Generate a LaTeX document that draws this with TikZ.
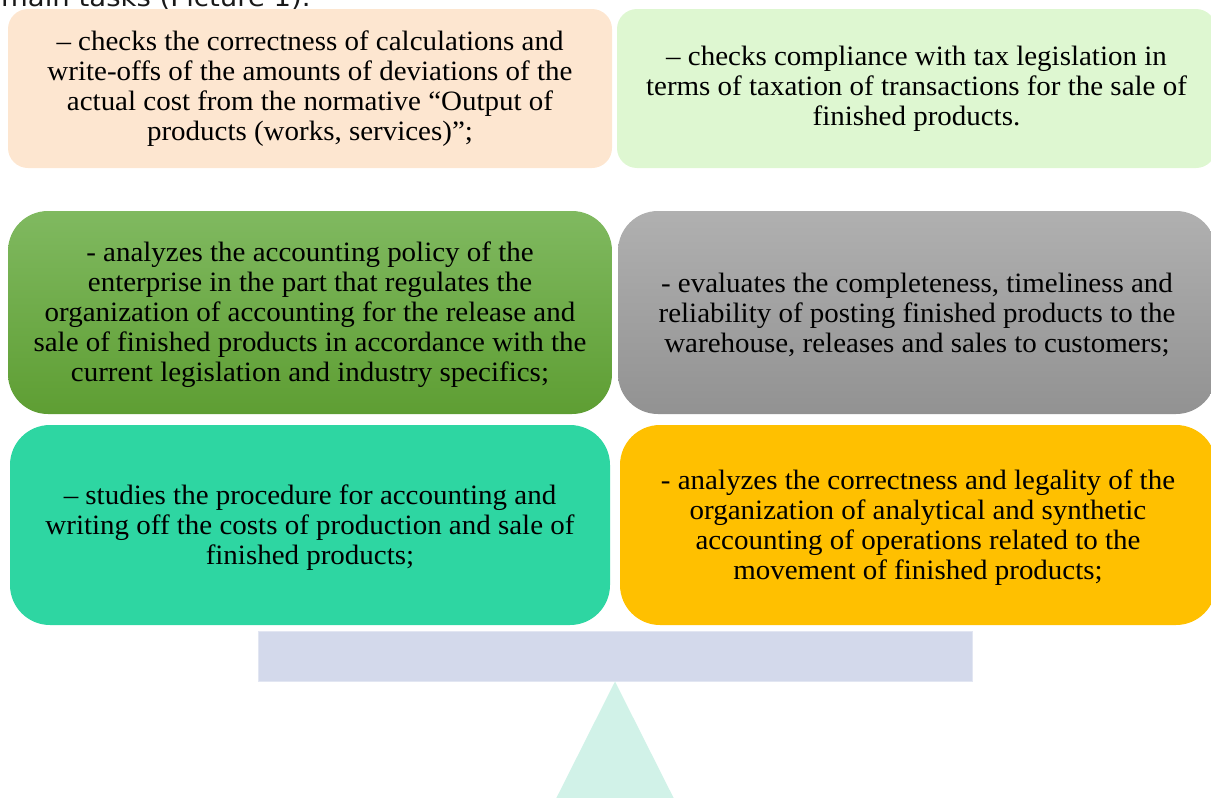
\documentclass[tikz,border=0pt]{standalone}
\usepackage{fontspec}
\setmainfont{Liberation Serif}[FakeStretch=1.035]
\newfontfamily\topfont{DejaVu Sans}[FakeStretch=1.1]
\definecolor{peach}{HTML}{FDE6D0}
\definecolor{mint}{HTML}{DEF7D1}
\definecolor{greentop}{HTML}{80B960}
\definecolor{greenbot}{HTML}{5E9E33}
\definecolor{graytop}{HTML}{B0B0B0}
\definecolor{graybot}{HTML}{929292}
\definecolor{teal}{HTML}{2ED6A2}
\definecolor{amber}{HTML}{FFC000}
\definecolor{barfill}{HTML}{D3D9EB}
\definecolor{barline}{HTML}{E2E6F2}
\definecolor{trifill}{HTML}{D1F2E8}
\tikzset{
  taskbox/.style={rectangle, inner sep=0pt, align=center, text=black,
    font=\fontsize{28}{30}\selectfont},
  smallr/.style={rounded corners=20pt},
  bigr/.style={rounded corners=40pt}
}
\begin{document}
\begin{tikzpicture}[x=1pt,y=-1pt]
\useasboundingbox (0,0) rectangle (1211,798);
\clip (0,0) rectangle (1211,798);

\node[anchor=base west, inner sep=0pt, text=black!90,
  font=\topfont\fontsize{25}{30}\selectfont] (title) at (1,6) {main tasks (Picture 1).};

\node[taskbox, smallr, fill=peach, minimum width=604pt, minimum height=159pt] (b1) at (310,88.5)
 {– checks the correctness of calculations and\\ write-offs of the amounts of deviations of the\\ actual cost from the normative “Output of\\ products (works, services)”;};

\node[taskbox, smallr, fill=mint, minimum width=599pt, minimum height=159pt] (b2) at (916.5,88.5)
 {– checks compliance with tax legislation in\\ terms of taxation of transactions for the sale of\\ finished products.};

\node[taskbox, bigr, top color=greentop, bottom color=greenbot, minimum width=604pt, minimum height=203pt] (b3) at (310,312.5)
 {\rule{0pt}{24pt}- analyzes the accounting policy of the\\ enterprise in the part that regulates the\\ organization of accounting for the release and\\ sale of finished products in accordance with the\\ current legislation and industry specifics;};

\node[taskbox, bigr, top color=graytop, bottom color=graybot, minimum width=598pt, minimum height=203pt] (b4) at (917,312.5)
 {\rule{0pt}{24pt}- evaluates the completeness, timeliness and\\ reliability of posting finished products to the\\ warehouse, releases and sales to customers;};

\node[taskbox, bigr, fill=teal, minimum width=600pt, minimum height=200pt] (b5) at (310,525)
 {\rule{0pt}{24pt}– studies the procedure for accounting and\\ writing off the costs of production and sale of\\ finished products;};

\node[taskbox, bigr, fill=amber, minimum width=596pt, minimum height=200pt] (b6) at (918,525)
 {\rule{0pt}{25pt}- analyzes the correctness and legality of the\\ organization of analytical and synthetic\\ accounting of operations related to the\\ movement of finished products;};

\node[rectangle, fill=barfill, draw=barline, line width=1pt, minimum width=714pt, minimum height=50pt, inner sep=0pt] (bar) at (615,656) {};

\coordinate (apex) at (bar.south);
\fill[trifill] (apex) -- (505,900) -- (725,900) -- cycle;
\end{tikzpicture}
\end{document}
